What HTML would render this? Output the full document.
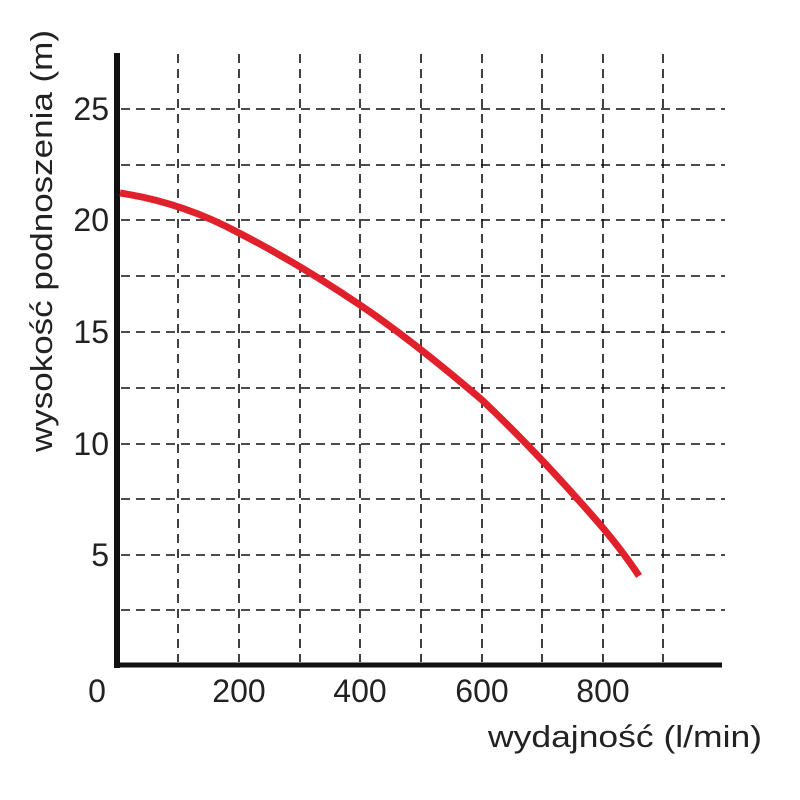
<!DOCTYPE html>
<html><head><meta charset="utf-8"><style>body{margin:0;background:#fff}svg{display:block}</style></head>
<body>
<svg width="800" height="800" xmlns="http://www.w3.org/2000/svg" font-family="Liberation Sans, Arial, sans-serif">
<rect width="800" height="800" fill="#fff"/>
<g stroke="#111" stroke-width="1.6" stroke-dasharray="9,6" fill="none">
<line x1="178" y1="54" x2="178" y2="662"/><line x1="239" y1="54" x2="239" y2="662"/>
<line x1="300" y1="54" x2="300" y2="662"/><line x1="360" y1="54" x2="360" y2="662"/>
<line x1="421" y1="54" x2="421" y2="662"/><line x1="482" y1="54" x2="482" y2="662"/>
<line x1="542" y1="54" x2="542" y2="662"/><line x1="603" y1="54" x2="603" y2="662"/>
<line x1="663" y1="54" x2="663" y2="662"/>
<line x1="121" y1="109" x2="725" y2="109"/><line x1="121" y1="165" x2="725" y2="165"/>
<line x1="121" y1="220" x2="725" y2="220"/><line x1="121" y1="276" x2="725" y2="276"/>
<line x1="121" y1="332" x2="725" y2="332"/><line x1="121" y1="388" x2="725" y2="388"/>
<line x1="121" y1="444" x2="725" y2="444"/><line x1="121" y1="499" x2="725" y2="499"/>
<line x1="121" y1="555" x2="725" y2="555"/><line x1="121" y1="610" x2="725" y2="610"/>
</g>
<line x1="117" y1="53" x2="117" y2="668" stroke="#111" stroke-width="6"/>
<line x1="114" y1="665" x2="722" y2="665" stroke="#111" stroke-width="5"/>
<path d="M120,193 C160,199 200,212 239,233 C280,254 320,278 360,305 C400,332 440,364 482,400 C520,436 560,478 603,528 C618,546 630,562 639,576" fill="none" stroke="#e0202a" stroke-width="7" stroke-linecap="butt"/>
<g font-size="32" fill="#222" text-anchor="end">
<text x="109" y="120">25</text><text x="109" y="231">20</text><text x="109" y="343">15</text>
<text x="109" y="455">10</text><text x="109" y="566">5</text>
</g>
<g font-size="32" fill="#222" text-anchor="middle">
<text x="97" y="702">0</text><text x="239" y="702">200</text><text x="360" y="702">400</text>
<text x="482" y="702">600</text><text x="603" y="702">800</text>
</g>
<text x="488" y="747" font-size="31" fill="#222" textLength="274" lengthAdjust="spacingAndGlyphs">wydajność (l/min)</text>
<text transform="translate(52,452) rotate(-90)" font-size="31" fill="#222" textLength="422" lengthAdjust="spacingAndGlyphs">wysokość podnoszenia (m)</text>
</svg>
</body></html>
